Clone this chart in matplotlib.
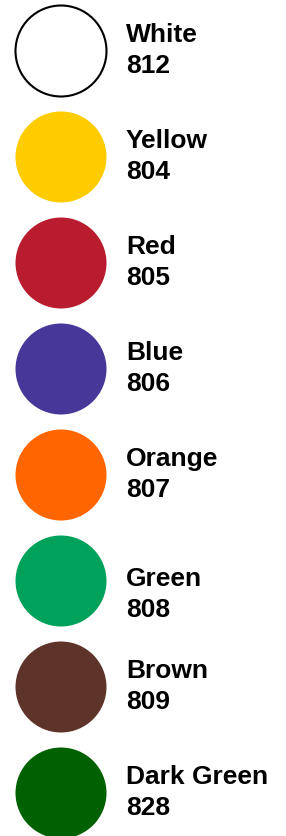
import matplotlib
matplotlib.use('Agg')
import matplotlib.pyplot as plt
from matplotlib.patches import Circle

# swatch data
names = ['White', 'Yellow', 'Red', 'Blue', 'Orange', 'Green', 'Brown', 'Dark Green']
codes = ['812', '804', '805', '806', '807', '808', '809', '828']
colors = ['#FFFFFF', '#FFCC00', '#B81C2E', '#463798', '#FF6600', '#00A15B', '#5E3329', '#006100']

W, H = 286, 837
fig = plt.figure(figsize=(W / 100, H / 100), dpi=100)
ax = fig.add_axes([0, 0, 1, 1])
ax.set_xlim(0, W)
ax.set_ylim(H, 0)
ax.axis('off')

step = 106
cx, cy0, r = 61, 52, 45.5
for i, (name, code, col) in enumerate(zip(names, codes, colors)):
    cy = cy0 + i * step
    edge = 'black' if col == '#FFFFFF' else col
    lw = 1.5 if col == '#FFFFFF' else 0
    ax.add_patch(Circle((cx, cy), r, facecolor=col, edgecolor=edge, linewidth=lw))
    # the Green label sits a bit lower in the original
    ty = cy + (14 if name == 'Green' else 0)
    ax.text(126, ty - 10, name, fontsize=19, fontweight='bold',
            family='Liberation Sans', va='baseline', ha='left')
    ax.text(126, ty + 21, code, fontsize=19, fontweight='bold',
            family='Liberation Sans', va='baseline', ha='left')

fig.savefig('out.png', dpi=100)
